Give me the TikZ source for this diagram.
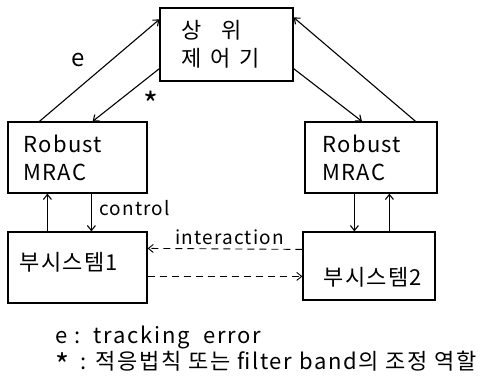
\documentclass[tikz,border=0pt]{standalone}
\usepackage{fontspec}
\setmainfont{Noto Sans CJK KR}
\usetikzlibrary{arrows.meta}
\begin{document}
\begin{tikzpicture}[x=1pt,y=-1pt,
  box/.style={draw,line width=1.2pt,inner sep=0pt},
  conn/.style={line width=1.1pt,-{Straight Barb[length=5pt,width=8pt]}},
  dconn/.style={line width=0.9pt,dash pattern=on 7pt off 5pt,-{Straight Barb[length=5pt,width=8pt]}},
  lbl/.style={font=\fontsize{19}{22}\selectfont\addfontfeature{LetterSpace=6}},
  btxt/.style={font=\fontsize{22}{28}\selectfont\addfontfeature{LetterSpace=6},align=left},
  legtxt/.style={font=\fontsize{22}{28}\selectfont\addfontfeature{LetterSpace=8}}]
\useasboundingbox (0,0) rectangle (486,391);
\node[box,minimum width=133pt,minimum height=73pt] (top) at (226.5,44.5) {};
\node[btxt,anchor=west] (toptxt) at (178,44.5) {상\hspace{0.9em}위\\[0pt]제\hspace{0.4em}어\hspace{0.4em}기};
\node[box,minimum width=139pt,minimum height=71pt] (rl) at (77.5,157.5) {};
\node[btxt,anchor=west] (rltxt) at (20,157.5) {Robust\\MRAC};
\node[box,minimum width=132pt,minimum height=71pt] (rr) at (371,157.5) {};
\node[btxt,anchor=west] (rrtxt) at (319,157.5) {Robust\\MRAC};
\node[box,minimum width=139pt,minimum height=71pt] (s1) at (77.5,267.5) {};
\node[btxt,anchor=west] (s1txt) at (16,262) {부시스템1};
\node[box,minimum width=132pt,minimum height=68pt] (s2) at (369,266) {};
\node[btxt,anchor=west] (s2txt) at (320,277) {부시스템2};
% top connections
\draw[conn] ([xshift=32pt]rl.north west) -- ([yshift=-12pt]top.north west);
\draw[conn] ([yshift=13pt]top.south west) -- ([xshift=-55pt]rl.north east);
\draw[conn] ([yshift=13pt]top.south east) -- ([xshift=-9pt]rr.north);
\draw[conn] ([xshift=-22pt]rr.north east) -- ([yshift=-10pt]top.north east);
\node[lbl,font=\fontsize{24}{24}\selectfont] (e) at (78,60) {e};
\node[lbl,font=\fontsize{32}{32}\selectfont] (star) at (151,104) {*};
% vertical
\draw[conn] ([xshift=40pt]s1.north west) -- ([xshift=40pt]rl.south west);
\draw[conn] ([xshift=84pt]rl.south west) -- ([xshift=84pt]s1.north west);
\node[lbl,anchor=west] (ctl) at (96,208) {control};
\draw[conn] ([xshift=50pt]rr.south west) -- ([xshift=52pt]s2.north west);
\draw[conn] ([xshift=87pt]s2.north west) -- ([xshift=85pt]rr.south west);
% dashed
\draw[dconn] ([yshift=-18pt]s2.north west) -- ([yshift=-17pt]s1.north east);
\draw[dconn] ([yshift=-45pt]s1.north east) -- ([yshift=-45pt]s2.north west);
\node[lbl,anchor=west] (inter) at (172,237) {interaction};
% legend
\node[legtxt,anchor=west] (leg1) at (52,337) {e :\hspace{0.6em}tracking\hspace{0.6em}error};
\node[legtxt,anchor=west] (leg2) at (52,364) {\raisebox{-0.32em}{\fontsize{30}{30}\selectfont *}\hspace{0.5em}:\hspace{0.4em}적응법칙 또는 filter band의 조정 역할};
\end{tikzpicture}
\end{document}
